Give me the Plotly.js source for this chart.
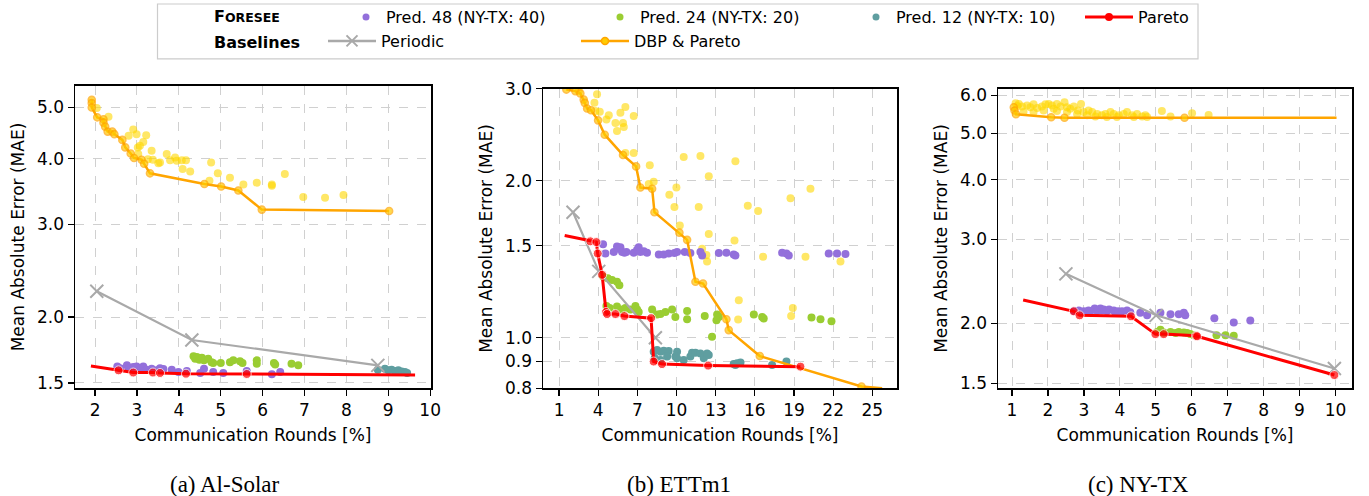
<!DOCTYPE html>
<html><head><meta charset="utf-8">
<script src="https://cdn.plot.ly/plotly-3.0.1.min.js"></script>
<style>html,body{margin:0;padding:0;background:#fff;}#chart{width:1369px;height:496px;}</style>
</head><body><div id="chart"></div>
<script>
// ---------- (a) Al-Solar ----------
const solarPred48X = [2.53,2.60,2.76,2.80,2.91,2.99,3.07,3.15,3.23,3.35,3.47,3.55,3.63,3.83,3.99,4.19,4.51,4.60,4.82,5.06,5.62,6.22,6.42];
const solarPred48Y = [1.612,1.60,1.62,1.597,1.608,1.612,1.60,1.612,1.59,1.597,1.585,1.60,1.595,1.59,1.574,1.58,1.567,1.597,1.574,1.567,1.58,1.558,1.574];
const solarPred24X = [4.35,4.39,4.43,4.49,4.55,4.60,4.70,4.78,4.82,5.00,5.22,5.30,5.46,5.52,5.86,5.86,6.27,6.30,6.69,6.85];
const solarPred24Y = [1.685,1.668,1.68,1.66,1.675,1.656,1.668,1.643,1.636,1.636,1.643,1.656,1.65,1.636,1.656,1.631,1.636,1.626,1.631,1.62];
const solarPred12X = [8.75,8.92,9.00,9.08,9.16,9.24,9.32,9.40,9.45];
const solarPred12Y = [1.59,1.597,1.585,1.59,1.58,1.585,1.577,1.573,1.567];
const solarDbpX = [2.04,2.32,2.80,2.91,2.99,3.22,3.15,3.07,3.02,3.03,3.35,3.26,3.38,3.55,3.51,3.71,3.79,3.91,3.95,4.07,4.17,4.09,4.27,4.77,4.93,4.73,5.22,5.54,5.86,6.22,6.22,6.53,6.97,7.49,7.93];
const solarDbpY = [4.99,4.80,4.42,4.54,4.45,4.43,4.30,4.23,4.20,4.08,4.14,3.99,3.98,3.93,3.92,4.08,3.97,4.02,3.96,3.97,3.97,3.82,3.78,3.93,3.75,3.63,3.68,3.57,3.60,3.55,3.57,3.74,3.38,3.37,3.41];
const solarDbpParetoX = [1.92,1.92,1.92,2.05,2.20,2.20,2.24,2.30,2.41,2.46,2.65,2.72,2.85,2.93,3.11,3.17,3.31,4.61,5.01,5.42,5.98,9.02];
const solarDbpParetoY = [5.17,5.10,5.00,4.79,4.75,4.68,4.60,4.50,4.50,4.45,4.34,4.20,4.09,4.01,3.98,3.91,3.75,3.58,3.54,3.48,3.20,3.18];
const solarPeriodicX = [2.04,4.31,8.75];
const solarPeriodicY = [2.24,1.81,1.62];
const solarParetoX = [1.90,2.56,2.91,3.38,3.55,4.17,5.62,9.64];
const solarParetoY = [1.615,1.585,1.57,1.57,1.567,1.562,1.56,1.553];

// ---------- (b) ETTm1 ----------
const ettPred48X = [4.37,4.55,5.19,5.44,5.57,5.70,5.83,6.01,6.16,6.72,6.98,7.10,7.23,7.49,7.74,8.64,9.02,9.40,9.84,10.04,10.63,11.06,11.83,11.96,13.24,13.82,14.38,14.51,18.09,18.42,18.60,21.66,22.30,22.94];
const ettPred48Y = [1.51,1.45,1.46,1.495,1.48,1.49,1.46,1.455,1.46,1.455,1.475,1.49,1.46,1.465,1.455,1.444,1.444,1.45,1.453,1.46,1.46,1.453,1.46,1.438,1.453,1.455,1.444,1.438,1.455,1.45,1.438,1.45,1.45,1.447];
const ettPred24X = [4.37,4.73,5.06,5.44,5.62,4.63,4.88,5.44,5.83,6.08,6.47,6.85,6.98,7.10,8.13,8.51,8.77,9.15,9.66,9.91,10.81,12.16,12.72,13.11,13.24,15.92,16.56,13.06,16.68,20.34,21.03,21.87,10.81];
const ettPred24Y = [1.31,1.30,1.29,1.28,1.26,1.15,1.14,1.148,1.133,1.14,1.133,1.15,1.133,1.12,1.133,1.108,1.11,1.12,1.133,1.096,1.085,1.10,1.004,1.108,1.096,1.108,1.096,1.08,1.088,1.093,1.085,1.075,1.125];
const ettPred12X = [8.25,8.51,8.77,9.02,9.40,10.04,8.33,8.77,9.28,9.91,10.04,10.55,11.06,11.19,11.45,11.83,12.09,12.34,12.47,14.38,14.64,14.90,17.32,18.42,14.51];
const ettPred12Y = [0.94,0.947,0.94,0.944,0.943,0.94,0.913,0.906,0.92,0.92,0.913,0.906,0.92,0.936,0.936,0.933,0.913,0.933,0.926,0.89,0.893,0.896,0.886,0.90,0.886];
const ettDbpX = [2.51,3.71,3.78,3.91,4.12,4.63,4.81,5.32,5.44,5.70,6.08,5.90,5.96,6.72,6.08,6.72,7.95,7.87,8.25,9.45,9.84,9.99,10.25,10.55,11.70,11.83,11.96,12.29,12.34,12.47,12.47,14.51,14.44,14.77,14.72,15.46,16.25,16.63,18.73,18.91,18.78,19.88,20.26,22.56];
const ettDbpY = [2.97,2.82,2.72,2.93,2.71,2.62,2.67,2.58,2.49,2.70,2.77,2.58,2.535,2.66,2.26,2.26,2.14,1.97,1.99,1.88,1.78,1.94,1.64,2.22,1.78,2.23,1.48,1.44,1.40,2.04,1.58,2.18,1.535,1.18,1.083,1.79,1.75,1.43,1.85,1.14,1.10,1.43,1.93,1.40];
const ettDbpParetoX = [1.56,2.25,2.63,2.89,2.97,3.15,3.45,3.99,4.50,5.90,6.90,7.23,8.13,8.31,10.22,10.81,11.45,12.03,13.82,14.00,16.38,24.17,25.75];
const ettDbpParetoY = [2.99,2.97,2.94,2.86,2.82,2.75,2.73,2.61,2.45,2.24,2.13,1.94,1.93,1.74,1.59,1.54,1.28,1.27,1.085,1.034,0.922,0.806,0.80];
const ettPeriodicX = [2.07,4.04,8.38];
const ettPeriodicY = [1.74,1.34,1.0];
const ettParetoX = [1.43,3.40,3.86,3.96,4.30,4.60,4.68,5.32,6.01,8.05,8.25,8.89,12.42,19.49];
const ettParetoY = [1.57,1.53,1.525,1.45,1.32,1.12,1.11,1.11,1.10,1.09,0.90,0.89,0.884,0.88];

// ---------- (c) NY-TX ----------
const nytxPred48X = [2.72,2.80,2.86,3.00,3.13,3.18,3.30,3.37,3.46,3.50,3.55,3.64,3.70,3.83,3.88,3.95,4.06,4.20,4.29,4.57,4.76,5.13,5.41,5.64,5.78,5.82,6.63,7.17,7.63];
const nytxPred48Y = [2.125,2.12,2.13,2.12,2.13,2.12,2.15,2.125,2.15,2.13,2.14,2.12,2.14,2.13,2.105,2.12,2.12,2.13,2.11,2.105,2.08,2.105,2.09,2.09,2.105,2.08,2.05,2.01,2.03];
const nytxPred24X = [5.04,5.13,5.22,5.41,5.55,5.64,5.78,5.87,5.96,6.06,6.69,6.94,7.17];
const nytxPred24Y = [1.92,1.94,1.915,1.92,1.91,1.92,1.915,1.91,1.90,1.89,1.89,1.89,1.885];
const nytxDbpX = [1.10,1.15,1.19,1.28,1.42,1.51,1.60,1.70,1.83,1.93,2.02,2.11,2.16,2.25,2.35,2.46,2.53,2.62,2.72,2.83,2.92,2.99,3.13,3.23,3.37,3.50,3.60,3.74,3.83,3.97,4.11,4.20,4.34,4.48,4.62,4.71,5.17,5.41,6.01,6.47,1.32,1.60,1.88,2.25,2.53,2.81,3.09,3.32,3.64,3.92,4.39,4.76];
const nytxDbpY = [5.78,5.70,5.76,5.69,5.72,5.67,5.75,5.65,5.69,5.75,5.76,5.72,5.63,5.76,5.69,5.81,5.67,5.63,5.69,5.58,5.76,5.54,5.58,5.54,5.49,5.455,5.49,5.54,5.49,5.455,5.49,5.54,5.455,5.49,5.42,5.455,5.565,5.42,5.51,5.46,5.54,5.54,5.58,5.565,5.54,5.49,5.455,5.42,5.41,5.41,5.41,5.41];
const nytxDbpParetoX = [1.05,1.07,1.11,2.09,2.46,5.80,10.03];
const nytxDbpParetoY = [5.67,5.58,5.48,5.40,5.39,5.39,5.39];
const nytxPeriodicX = [2.50,5.01,9.97];
const nytxPeriodicY = [2.54,2.08,1.61];
const nytxParetoX = [1.31,2.72,2.88,4.31,4.99,5.22,6.12,6.15,9.97];
const nytxParetoY = [2.24,2.12,2.08,2.07,1.90,1.90,1.885,1.88,1.56];

// ---------- labels ----------
const legendLabels = {p48:'Pred. 48 (NY-TX: 40)', p24:'Pred. 24 (NY-TX: 20)', p12:'Pred. 12 (NY-TX: 10)', pareto:'Pareto', periodic:'Periodic', dbp:'DBP & Pareto'};
const captions = ['(a) Al-Solar','(b) ETTm1','(c) NY-TX'];
const xTitle = 'Communication Rounds [%]';
const yTitle = 'Mean Absolute Error (MAE)';
const solarYTicks = [1.5,2.0,3.0,4.0,5.0];
const ettYTicks = [0.8,0.9,1.0,1.5,2.0,3.0];
const nytxYTicks = [1.5,2.0,3.0,4.0,5.0,6.0];
const solarXTicks = [2,3,4,5,6,7,8,9,10];
const ettXTicks = [1,4,7,10,13,16,19,22,25];
const nytxXTicks = [1,2,3,4,5,6,7,8,9,10];

// ---------- styles ----------
const C = {p48:'#9370DB', p24:'#9ACD32', p12:'#5F9EA0', red:'#FF0000', gray:'#A9A9A9', orange:'#FFA500', gold:'rgba(255,215,0,0.6)', goldFill:'#FFCC00'};
const W = 1369, H = 496;
const FONT = 'DejaVu Sans, sans-serif';

function sizes(n, s, skipFirst, skipLast){
  return Array.from({length:n}, (_, i) => ((skipFirst && i === 0) || (skipLast && i === n-1)) ? 0 : s);
}
function dots(x, y, color, ax, ay){
  return {type:'scatter', mode:'markers', x, y, xaxis:ax, yaxis:ay, showlegend:false, hoverinfo:'skip',
    marker:{color, size:8, line:{width:0}}};
}
function periodic(x, y, ax, ay){
  return {type:'scatter', mode:'lines+markers', x, y, xaxis:ax, yaxis:ay, showlegend:false, hoverinfo:'skip',
    line:{color:C.gray, width:2.2}, marker:{symbol:'x-thin', size:13, line:{color:C.gray, width:2}}};
}
function dbpLine(x, y, ax, ay, skipLast){
  return {type:'scatter', mode:'lines+markers', x, y, xaxis:ax, yaxis:ay, showlegend:false, hoverinfo:'skip',
    line:{color:C.orange, width:2.5}, marker:{color:C.goldFill, size:sizes(x.length, 7, false, skipLast), line:{color:C.orange, width:1.6}}};
}
function paretoLine(x, y, ax, ay, skipLast){
  return {type:'scatter', mode:'lines+markers', x, y, xaxis:ax, yaxis:ay, showlegend:false, hoverinfo:'skip',
    line:{color:C.red, width:3}, marker:{color:C.red, size:sizes(x.length, 9, true, skipLast)}};
}
function panel(ax, ay, d){
  return [
    dots(d.dbpX, d.dbpY, C.gold, ax, ay),
    dots(d.p48X, d.p48Y, C.p48, ax, ay),
    dots(d.p24X, d.p24Y, C.p24, ax, ay),
    ...(d.p12X ? [dots(d.p12X, d.p12Y, C.p12, ax, ay)] : []),
    periodic(d.perX, d.perY, ax, ay),
    dbpLine(d.dbpPX, d.dbpPY, ax, ay, d.dbpSkipLast),
    paretoLine(d.parX, d.parY, ax, ay, d.parSkipLast)
  ];
}

const traces = [
  ...panel('x','y',{dbpX:solarDbpX, dbpY:solarDbpY, p48X:solarPred48X, p48Y:solarPred48Y, p24X:solarPred24X, p24Y:solarPred24Y, p12X:solarPred12X, p12Y:solarPred12Y,
    perX:solarPeriodicX, perY:solarPeriodicY, dbpPX:solarDbpParetoX, dbpPY:solarDbpParetoY, dbpSkipLast:false, parX:solarParetoX, parY:solarParetoY, parSkipLast:true}),
  ...panel('x2','y2',{dbpX:ettDbpX, dbpY:ettDbpY, p48X:ettPred48X, p48Y:ettPred48Y, p24X:ettPred24X, p24Y:ettPred24Y, p12X:ettPred12X, p12Y:ettPred12Y,
    perX:ettPeriodicX, perY:ettPeriodicY, dbpPX:ettDbpParetoX, dbpPY:ettDbpParetoY, dbpSkipLast:true, parX:ettParetoX, parY:ettParetoY, parSkipLast:false}),
  ...panel('x3','y3',{dbpX:nytxDbpX, dbpY:nytxDbpY, p48X:nytxPred48X, p48Y:nytxPred48Y, p24X:nytxPred24X, p24Y:nytxPred24Y,
    perX:nytxPeriodicX, perY:nytxPeriodicY, dbpPX:nytxDbpParetoX, dbpPY:nytxDbpParetoY, dbpSkipLast:true, parX:nytxParetoX, parY:nytxParetoY, parSkipLast:false})
];

// legend-only entries, one legend box per entry
function leg(name, legend, extra){
  return Object.assign({type:'scatter', x:[null], y:[null], xaxis:'x', yaxis:'y', name, legend, showlegend:true, hoverinfo:'skip'}, extra);
}
traces.push(
  leg(legendLabels.p48, 'legend', {mode:'markers', marker:{color:C.p48, size:7}}),
  leg(legendLabels.p24, 'legend2', {mode:'markers', marker:{color:C.p24, size:7}}),
  leg(legendLabels.p12, 'legend3', {mode:'markers', marker:{color:C.p12, size:7}}),
  leg(legendLabels.pareto, 'legend4', {mode:'lines+markers', line:{color:C.red, width:3}, marker:{color:C.red, size:8}}),
  leg(legendLabels.periodic, 'legend5', {mode:'lines+markers', line:{color:C.gray, width:2.5}, marker:{symbol:'x-thin', size:11, line:{color:C.gray, width:2}}}),
  leg(legendLabels.dbp, 'legend6', {mode:'lines+markers', line:{color:C.orange, width:2.5}, marker:{color:C.goldFill, size:7, line:{color:C.orange, width:1.5}}})
);

function xAxis(domain, range, ticks, anchor){
  return {domain, range, tickvals:ticks, ticktext:ticks.map(String), anchor,
    showline:true, mirror:true, linecolor:'#000', linewidth:1.5,
    ticks:'outside', ticklen:6, tickwidth:1.3, tickcolor:'#000',
    showgrid:true, gridcolor:'#d0d0d0', griddash:'dash', gridwidth:1, zeroline:false,
    tickfont:{family:FONT, size:17, color:'#000'},
    title:{text:xTitle, font:{family:FONT, size:17, color:'#000'}, standoff:10}};
}
function yAxis(domain, range, ticks, anchor){
  return {domain, type:'log', range:range.map(Math.log10), tickvals:ticks, ticktext:ticks.map(v => v.toFixed(1)), anchor,
    showline:true, mirror:true, linecolor:'#000', linewidth:1.5,
    ticks:'outside', ticklen:6, tickwidth:1.3, tickcolor:'#000',
    showgrid:true, gridcolor:'#d0d0d0', griddash:'dash', gridwidth:1, zeroline:false,
    tickfont:{family:FONT, size:17, color:'#000'},
    title:{text:yTitle, font:{family:FONT, size:17, color:'#000'}, standoff:8}};
}
const px = v => v / W;
const py = v => 1 - v / H;

// legend box placement: left edge (px), top (px), item width
function legendBox(left, top, itemW){
  return {x:px(left), y:py(top), xanchor:'left', yanchor:'top', orientation:'v',
    bgcolor:'rgba(0,0,0,0)', borderwidth:0, itemwidth:itemW, tracegroupgap:0,
    font:{family:FONT, size:16, color:'#000'}, itemclick:false, itemdoubleclick:false};
}
const ROW1 = -1, ROW2 = 24;

const layout = {
  width:W, height:H, margin:{l:0, r:0, t:0, b:0}, paper_bgcolor:'#fff', plot_bgcolor:'#fff',
  font:{family:FONT, color:'#000'},
  xaxis: xAxis([px(75), px(431)], [1.52, 10.02], solarXTicks, 'y'),
  yaxis: yAxis([py(388), py(85)], [1.466, 5.497], solarYTicks, 'x'),
  xaxis2: xAxis([px(543), px(897)], [-0.23, 26.89], ettXTicks, 'y2'),
  yaxis2: yAxis([py(388), py(88)], [0.8, 3.0], ettYTicks, 'x2'),
  xaxis3: xAxis([px(998), px(1352)], [0.61, 10.46], nytxXTicks, 'y3'),
  yaxis3: yAxis([py(388), py(88)], [1.464, 6.195], nytxYTicks, 'x3'),
  showlegend:true,
  legend: legendBox(346, ROW1, 30),
  legend2: legendBox(600, ROW1, 30),
  legend3: legendBox(856, ROW1, 30),
  legend4: legendBox(1080, ROW1, 48),
  legend5: legendBox(323, ROW2, 48),
  legend6: legendBox(576, ROW2, 48),
  shapes:[{type:'rect', xref:'paper', yref:'paper', x0:px(157.5), x1:px(1198), y0:py(58), y1:py(3), line:{color:'#cccccc', width:1.2}, fillcolor:'rgba(0,0,0,0)', layer:'below'}],
  annotations:[
    {xref:'paper', yref:'paper', x:px(212), y:py(16), xanchor:'left', yanchor:'middle', showarrow:false,
      text:'<b>F<span style="font-size:12.5px">ORESEE</span></b>', font:{family:FONT, size:16, color:'#000'}},
    {xref:'paper', yref:'paper', x:px(212), y:py(41.7), xanchor:'left', yanchor:'middle', showarrow:false,
      text:'<b>Baselines</b>', font:{family:FONT, size:16, color:'#000'}},
    ...captions.map((t, i) => ({xref:'paper', yref:'paper', x:px([224.5, 678.5, 1138][i]), y:py(484), xanchor:'center', yanchor:'middle', showarrow:false,
      text:t, font:{family:'Liberation Serif, serif', size:23, color:'#000'}}))
  ]
};

Plotly.newPlot('chart', traces, layout, {staticPlot:true, displayModeBar:false});
</script></body></html>
